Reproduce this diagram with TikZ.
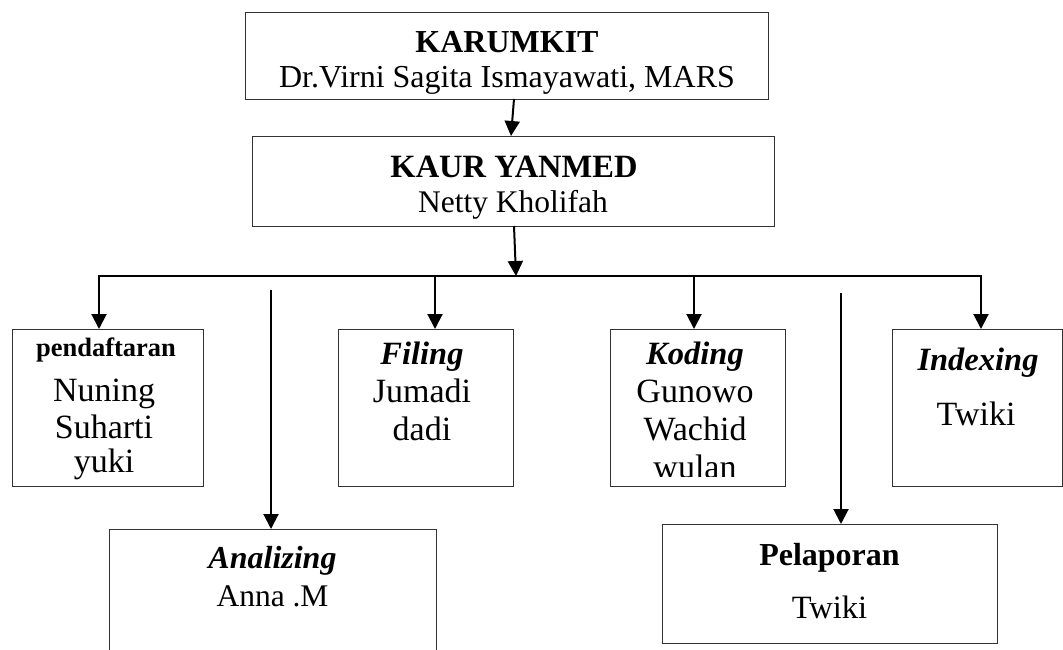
\documentclass[tikz,border=0pt]{standalone}
\usepackage{fontspec}
\setmainfont{Liberation Serif}
\usetikzlibrary{arrows.meta}
\begin{document}
\begin{tikzpicture}[x=1pt,y=-1pt,
  box/.style={draw=black!80, line width=1pt, inner sep=0pt, outer sep=0pt},
  arr/.style={draw=black, line width=2pt, -{Triangle[width=15pt,length=15pt]}},
  bus/.style={draw=black, line width=1.4pt},
  txt/.style={anchor=base, inner sep=0pt, font=\fontsize{31.5}{36}\selectfont},
  txtb/.style={anchor=base, inner sep=0pt, font=\fontsize{34}{38}\selectfont},
  ttl/.style={txt, font=\fontsize{32}{36}\selectfont\bfseries},
  ttli/.style={txt, font=\fontsize{32.5}{36}\selectfont\bfseries\itshape},
  ttls/.style={txt, font=\fontsize{26.5}{30}\selectfont\bfseries}]
\useasboundingbox (0,0) rectangle (1063,649);

% boxes
\node[box, minimum width=523pt, minimum height=87pt] (karumkit) at (506.5,55.5) {};
\node[box, minimum width=522pt, minimum height=90pt] (kaur) at (513,181) {};
\node[box, minimum width=191pt, minimum height=157pt] (pend) at (107.5,407.5) {};
\node[box, minimum width=175pt, minimum height=157pt] (filing) at (425.5,407.5) {};
\node[box, minimum width=175pt, minimum height=157pt] (koding) at (697.5,407.5) {};
\node[box, minimum width=170pt, minimum height=157pt] (indexing) at (977,407.5) {};
\node[box, minimum width=327pt, minimum height=140pt] (analizing) at (272.5,599) {};
\node[box, minimum width=335pt, minimum height=119pt] (pelaporan) at (829.5,583.5) {};

% texts
\node[ttl] (t1) at (507,52) {KARUMKIT};
\node[txt, font=\fontsize{32}{36}\selectfont] (t2) at (507,87) {Dr.Virni Sagita Ismayawati, MARS};
\node[ttl, font=\fontsize{32.5}{36}\selectfont\bfseries] (t3) at (514,177) {KAUR YANMED};
\node[txt] (t4) at (513,212) {Netty Kholifah};

\node[ttls] (p1) at (106,356) {pendaftaran};
\node[txtb] (p2) at (104,401) {Nuning};
\node[txtb] (p3) at (104,438) {Suharti};
\begin{scope}
  \clip (15,445) rectangle (200,479);
  \node[txtb] (p4) at (104,472) {yuki};
\end{scope}

\node[ttli] (f1) at (422,364) {Filing};
\node[txtb] (f2) at (422,402) {Jumadi};
\node[txtb] (f3) at (422,440) {dadi};

\node[ttli] (k1) at (695,364) {Koding};
\node[txtb] (k2) at (695,402) {Gunowo};
\node[txtb] (k3) at (695,440) {Wachid};
\begin{scope}
  \clip (615,445) rectangle (780,476);
  \node[txtb] (k4) at (695,478) {wulan};
\end{scope}

\node[ttli] (i1) at (978,370) {Indexing};
\node[txtb] (i2) at (976,425) {Twiki};

\node[ttli, font=\fontsize{32}{36}\selectfont\bfseries\itshape] (a1) at (272.5,568) {Analizing};
\node[txt] (a2) at (272.5,606) {Anna .M};

\node[ttl] (l1) at (829.5,565) {Pelaporan};
\node[txt, font=\fontsize{32.5}{36}\selectfont] (l2) at (829.5,618) {Twiki};

% connectors
\coordinate (busL) at (98,276);
\coordinate (busR) at (982,276);
\coordinate (busC) at (516,276);
\coordinate (aTop) at (271,290);
\coordinate (lTop) at (841,293);

\draw[arr] ([xshift=7.5pt]karumkit.south) -- ([xshift=-2pt]kaur.north);
\draw[arr] ([xshift=1pt]kaur.south) -- (busC);
\draw[bus] (busL) -- (busR);
\draw[arr] ([xshift=1pt]busL) -- ([xshift=1pt]busL |- pend.north);
\draw[arr] ([xshift=9.5pt]filing.north |- busL) -- ([xshift=9.5pt]filing.north);
\draw[arr] ([xshift=-3.5pt]koding.north |- busL) -- ([xshift=-3.5pt]koding.north);
\draw[arr] ([xshift=-1pt]busR) -- ([xshift=-1pt]busR |- indexing.north);
\draw[arr] (aTop) -- (aTop |- analizing.north);
\draw[arr] (lTop) -- (lTop |- pelaporan.north);
\end{tikzpicture}
\end{document}
